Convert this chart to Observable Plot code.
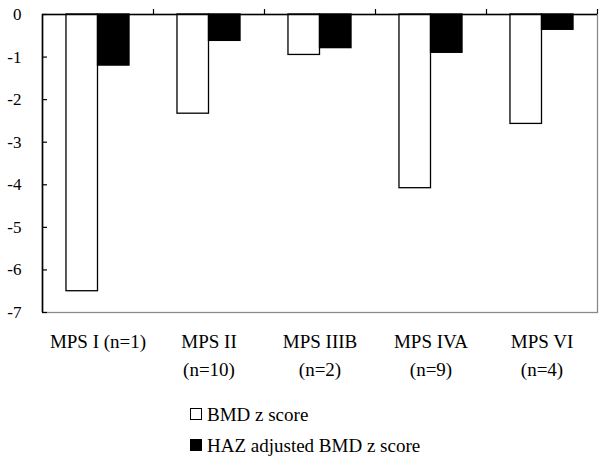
<!DOCTYPE html>
<html>
<head>
<meta charset="utf-8">
<script src="https://cdn.jsdelivr.net/npm/d3@7"></script>
<script src="https://cdn.jsdelivr.net/npm/@observablehq/plot@0.6"></script>
<style>
  html, body { margin: 0; padding: 0; background: #fff; }
  #wrap { position: relative; width: 600px; height: 461px; font-family: "Liberation Serif", "Times New Roman", serif; }
  .leg { position: absolute; left: 190px; font-size: 19px; line-height: 19px; white-space: nowrap; color: #000; }
  .sw { position: absolute; left: 0; top: 3px; width: 12px; height: 12px; box-sizing: border-box; border: 1.3px solid #000; }
  .lt { position: absolute; left: 17px; top: 0; }
</style>
</head>
<body>
<div id="wrap"></div>
<script>
const categories = ["MPS I (n=1)", "MPS II\n(n=10)", "MPS IIIB\n(n=2)", "MPS IVA\n(n=9)", "MPS VI\n(n=4)"];
const series = ["BMD z score", "HAZ adjusted BMD z score"];
const bmd = [-6.5, -2.33, -0.95, -4.08, -2.57];
const haz = [-1.2, -0.62, -0.79, -0.9, -0.36];
const yTicks = [0, -1, -2, -3, -4, -5, -6, -7];
const seriesColors = ["#ffffff", "#000000"];

const barW = 0.284; // bar width in category units
const data = categories.flatMap((c, i) => [
  {cat: c, i, s: 0, series: series[0], value: bmd[i]},
  {cat: c, i, s: 1, series: series[1], value: haz[i]}
]);

const chart = Plot.plot({
  width: 600,
  height: 385,
  marginTop: 14,
  marginLeft: 42,
  marginRight: 3,
  marginBottom: 73,
  style: {fontFamily: "Liberation Serif", fontSize: "17px", background: "#fff", color: "#000"},
  x: {domain: [0, categories.length], axis: null},
  y: {domain: [-7, 0], axis: null},
  color: {domain: series, range: seriesColors},
  marks: [
    Plot.frame({stroke: "#8a8a8a", strokeWidth: 1.3}),
    Plot.rect(data, {
      x1: d => d.i + 0.5 - (d.s === 0 ? barW : 0),
      x2: d => d.i + 0.5 + (d.s === 0 ? 0 : barW),
      y1: () => 0,
      y2: "value",
      fill: "series",
      stroke: "#000",
      strokeWidth: 1.3
    }),
    Plot.ruleY([0], {stroke: "#000", strokeWidth: 1.6}),
    Plot.ruleX([0], {stroke: "#000", strokeWidth: 1.6}),
    Plot.ruleY(yTicks, {x1: () => 0, x2: () => 0, insetRight: -5, stroke: "#000", strokeWidth: 1.2}),
    Plot.ruleX(d3.range(1, categories.length + 1), {y1: () => 0, y2: () => 0, insetTop: -5, stroke: "#000", strokeWidth: 1.2}),
    Plot.axisY({ticks: yTicks, tickSize: 0, tickPadding: 21, tickFormat: d => String(d), fontSize: 17, label: null}),
    Plot.text(categories, {
      x: (d, i) => i + 0.5,
      frameAnchor: "bottom",
      dy: 16,
      lineAnchor: "top",
      lineHeight: 1.45,
      fontSize: 19,
      text: d => d,
      fill: "#000"
    })
  ]
});

const wrap = document.getElementById("wrap");
wrap.appendChild(chart);

const legendTops = [405, 436];
series.forEach((s, k) => {
  const row = document.createElement("div");
  row.className = "leg";
  row.style.top = legendTops[k] + "px";
  const sw = document.createElement("span");
  sw.className = "sw";
  sw.style.background = seriesColors[k];
  const t = document.createElement("span");
  t.className = "lt";
  t.textContent = s;
  row.appendChild(sw);
  row.appendChild(t);
  wrap.appendChild(row);
});
</script>
</body>
</html>
